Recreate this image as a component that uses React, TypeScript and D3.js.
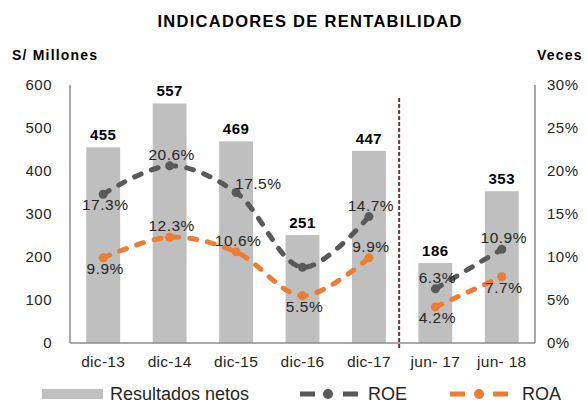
import React from 'react';
import * as d3 from 'd3';

const categories = ['dic-13', 'dic-14', 'dic-15', 'dic-16', 'dic-17', 'jun-17', 'jun-18'];
const resultados = [455, 557, 469, 251, 447, 186, 353];
const roe = [17.3, 20.6, 17.5, 8.8, 14.7, 6.3, 10.9];
const roa = [9.9, 12.3, 10.6, 5.5, 9.9, 4.2, 7.7];
// which points carry a label, and where it sits
const roeLabelPos = ['below', 'above', 'right', 'none', 'above', 'above', 'above'];
const roaLabelPos = ['below', 'above', 'above', 'below', 'above', 'below', 'below'];
const leftTicks = [0, 100, 200, 300, 400, 500, 600];
const rightTicks = [0, 5, 10, 15, 20, 25, 30];
// the annual points and the half-year points are drawn as separate lines
const segments = [[0, 1, 2, 3, 4], [5, 6]];

const width = 587;
const height = 405;
const margin = { top: 85, right: 52, bottom: 62, left: 70 };

const GRAY = '#595959';
const ORANGE = '#ED7D31';
const BAR = '#BFBFBF';
const AXIS = '#8C8C8C';
const TEXT = '#262626';
const FONT = 'Liberation Sans, Arial, sans-serif';

export default function App() {
  const x = d3.scaleBand<string>()
    .domain(categories)
    .range([margin.left, width - margin.right])
    .paddingInner(0.49)
    .paddingOuter(0.245);

  const y = d3.scaleLinear().domain([0, 600]).range([height - margin.bottom, margin.top]);
  const yPct = d3.scaleLinear().domain([0, 30]).range([height - margin.bottom, margin.top]);

  const cx = (i: number) => (x(categories[i]) as number) + x.bandwidth() / 2;
  const line = d3.line<number>()
    .x(i => cx(i))
    .curve(d3.curveCatmullRom.alpha(0.5));

  const x0 = margin.left;
  const x1 = width - margin.right;
  const yBase = y(0);
  const sepX = cx(5) - x.step() / 2 - 3;

  const drawSeries = (values: number[], color: string, pos: string[]) => {
    const l = line.y(i => yPct(values[i]));
    return (
      <g>
        {segments.map((seg, k) => (
          <path key={k} d={l(seg) || ''} fill="none" stroke={color} strokeWidth={5}
            strokeDasharray="7 11" strokeLinecap="round" />
        ))}
        {values.map((v, i) => (
          <circle key={i} cx={cx(i)} cy={yPct(v)} r={4.5} fill={color} />
        ))}
        {values.map((v, i) => {
          const p = pos[i];
          if (p === 'none') return null;
          const right = p === 'right';
          const dy = right ? -4 : p === 'above' ? -6 : 16;
          return (
            <text key={'t' + i} x={cx(i) + (right ? -1 : 2)} y={yPct(v) + dy}
              textAnchor={right ? 'start' : 'middle'} fontSize={15.5} letterSpacing={0.5} fill={TEXT}>
              {v.toFixed(1) + '%'}
            </text>
          );
        })}
      </g>
    );
  };

  return (
    <svg width={width} height={height} style={{ position: 'absolute', left: 0, top: 0 }}
      fontFamily={FONT}>
      <rect width={width} height={height} fill="#fff" />

      <text x={310} y={27} textAnchor="middle" fontSize={16.5} fontWeight="bold"
        letterSpacing={1.3} fill="#000">INDICADORES DE RENTABILIDAD</text>
      <text x={12} y={60} fontSize={14} fontWeight="bold" letterSpacing={1.2} fill="#000">S/ Millones</text>
      <text x={537} y={60} fontSize={14} fontWeight="bold" letterSpacing={1.2} fill="#000">Veces</text>

      {/* bars */}
      {resultados.map((v, i) => (
        <rect key={i} x={x(categories[i])} y={y(v)} width={x.bandwidth()} height={yBase - y(v)} fill={BAR} />
      ))}
      {resultados.map((v, i) => (
        <text key={'b' + i} x={cx(i)} y={y(v) - 7} textAnchor="middle" fontSize={15}
          fontWeight="bold" letterSpacing={0.5} fill="#000">{v}</text>
      ))}

      {/* axes */}
      <line x1={x0} x2={x0} y1={margin.top} y2={yBase} stroke={AXIS} strokeWidth={1.5} />
      <line x1={x1} x2={x1} y1={margin.top} y2={yBase} stroke={AXIS} strokeWidth={1.5} />
      <line x1={x0} x2={x1} y1={yBase} y2={yBase} stroke={AXIS} strokeWidth={1.5} />
      {leftTicks.map(t => (
        <text key={t} x={52} y={y(t)} dy="0.35em" textAnchor="end" fontSize={15}
          letterSpacing={0.5} fill={TEXT}>{t}</text>
      ))}
      {rightTicks.map(t => (
        <text key={t} x={547} y={yPct(t)} dy="0.35em" textAnchor="start" fontSize={15}
          letterSpacing={0.5} fill={TEXT}>{t + '%'}</text>
      ))}
      {categories.map((c, i) => (
        <text key={c} x={cx(i)} y={367} textAnchor="middle" fontSize={15.5}
          letterSpacing={0.3} fill={TEXT}>{c.replace('jun-', 'jun- ')}</text>
      ))}

      {/* separator between annual and half-year data */}
      <line x1={sepX} x2={sepX} y1={y(570)} y2={yBase + 5} stroke="#7B3535"
        strokeWidth={2} strokeDasharray="4 2" />

      {drawSeries(roe, GRAY, roeLabelPos)}
      {drawSeries(roa, ORANGE, roaLabelPos)}

      {/* legend */}
      <rect x={42} y={389} width={61} height={10} fill={BAR} />
      <text x={110} y={400} fontSize={18} fill={TEXT}>Resultados netos</text>
      <line x1={300} x2={358} y1={394} y2={394} stroke={GRAY} strokeWidth={5} strokeDasharray="15 28 15" />
      <circle cx={328} cy={394} r={5} fill={GRAY} />
      <text x={368} y={400} fontSize={18} fill={TEXT}>ROE</text>
      <line x1={450} x2={508} y1={394} y2={394} stroke={ORANGE} strokeWidth={5} strokeDasharray="15 28 15" />
      <circle cx={479} cy={394} r={5} fill={ORANGE} />
      <text x={522} y={400} fontSize={18} fill={TEXT}>ROA</text>
    </svg>
  );
}
